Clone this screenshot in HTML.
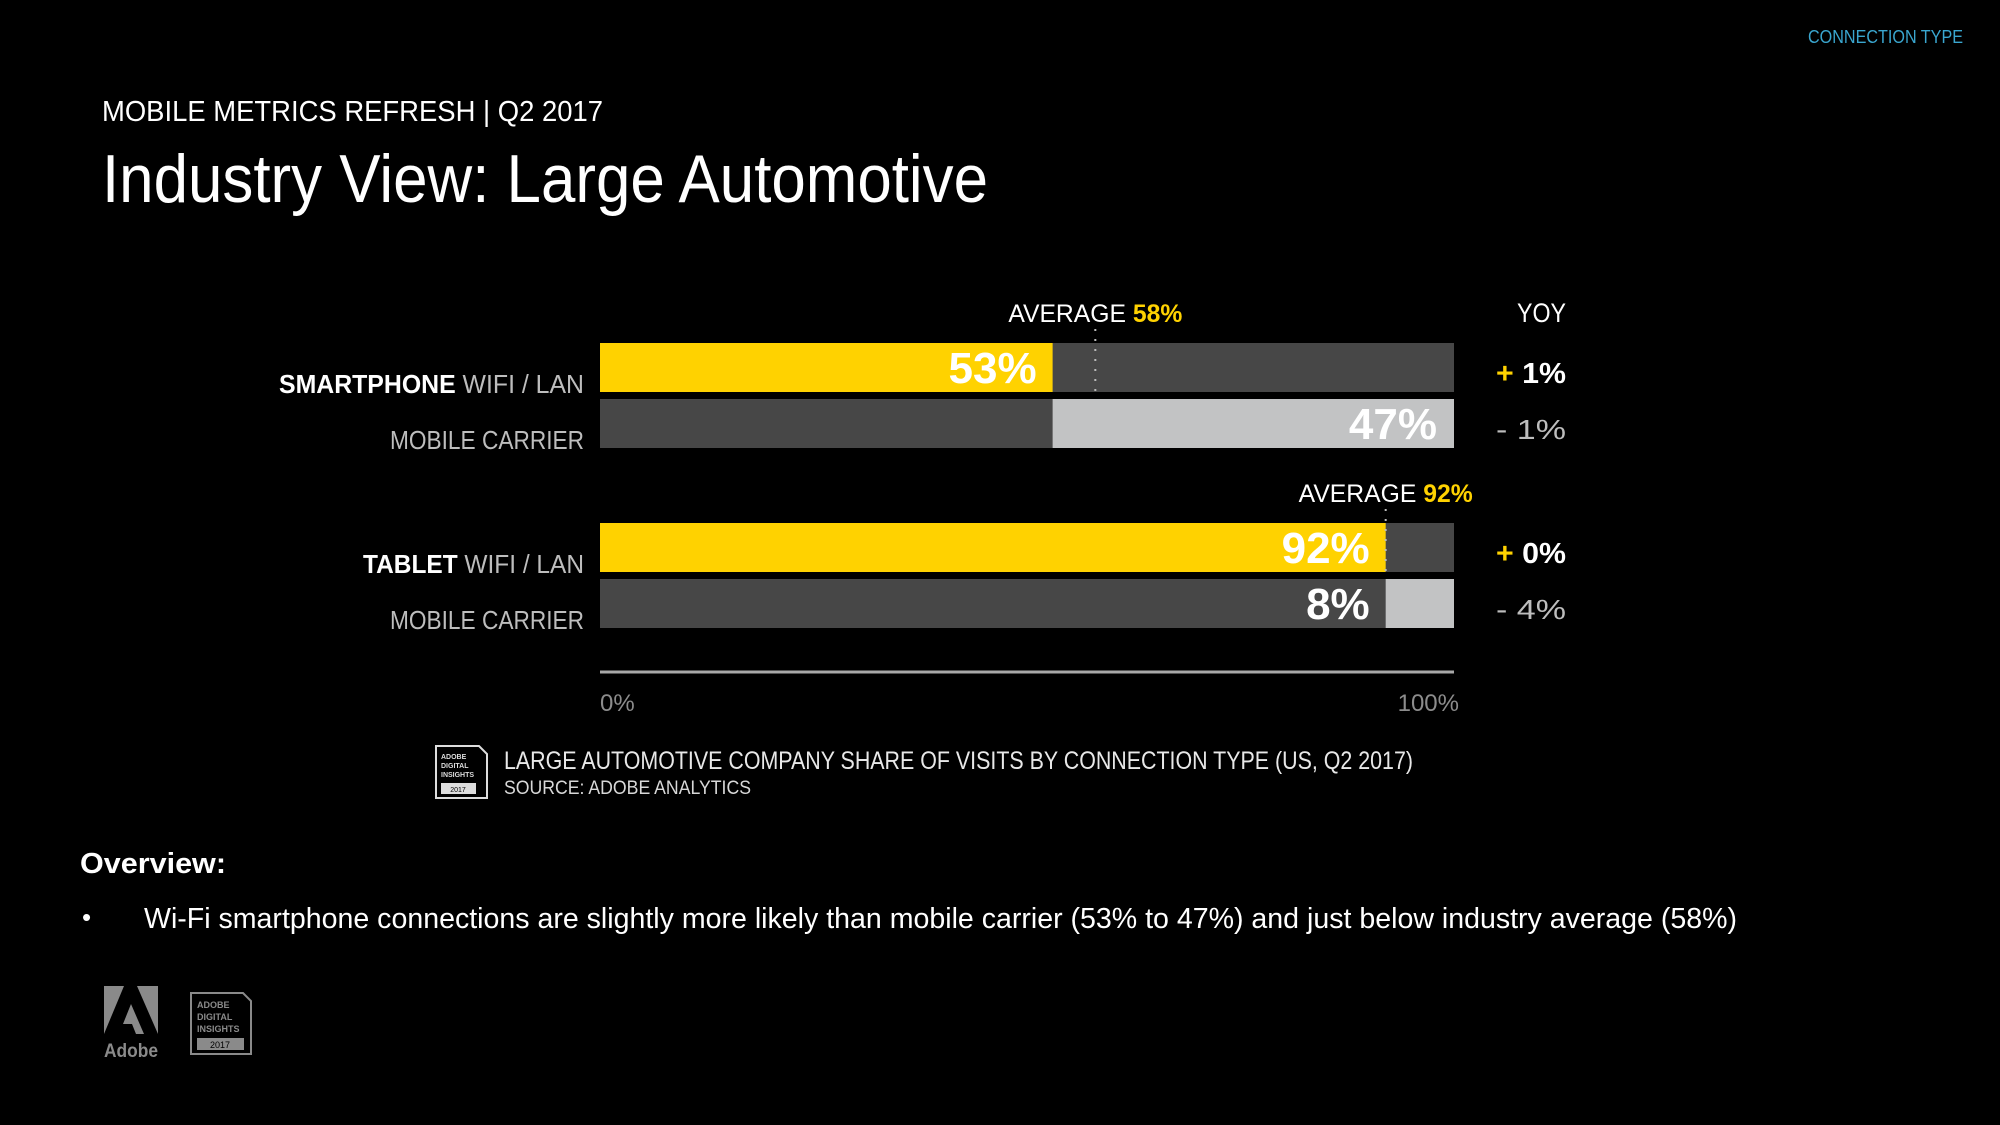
<!DOCTYPE html>
<html><head><meta charset="utf-8">
<style>
html,body{margin:0;padding:0;background:#000;}
svg{display:block;}
text{font-family:"Liberation Sans",sans-serif;}
</style></head>
<body>
<svg id="slide" width="2000" height="1125" viewBox="0 0 2000 1125" xmlns="http://www.w3.org/2000/svg">
<rect x="0" y="0" width="2000" height="1125" fill="#000"/>
<text x="1963" y="43" font-size="18" fill="#3aa6cf" text-anchor="end" textLength="155" lengthAdjust="spacingAndGlyphs">CONNECTION TYPE</text>
<text x="102" y="121" font-size="29" fill="#fff" textLength="501" lengthAdjust="spacingAndGlyphs">MOBILE METRICS REFRESH | Q2 2017</text>
<text x="102" y="202" font-size="68" fill="#fff" textLength="886" lengthAdjust="spacingAndGlyphs">Industry View: Large Automotive</text>

<g id="chart"></g>

<g>
<g>
<path d="M436 746 H479 L487 754 V798 H436 Z" fill="none" stroke="#ddd" stroke-width="2"/>
<text x="441" y="759" font-size="7" font-weight="bold" fill="#ddd">ADOBE</text>
<text x="441" y="768" font-size="7" font-weight="bold" fill="#ddd">DIGITAL</text>
<text x="441" y="777" font-size="7" font-weight="bold" fill="#ddd">INSIGHTS</text>
<rect x="441" y="783" width="35" height="11" fill="#ddd"/>
<text x="458" y="792" font-size="7" fill="#000" text-anchor="middle">2017</text>
</g>
<text x="504" y="769" font-size="25" fill="#e8e8e8" textLength="909" lengthAdjust="spacingAndGlyphs">LARGE AUTOMOTIVE COMPANY SHARE OF VISITS BY CONNECTION TYPE (US, Q2 2017)</text>
<text x="504" y="794" font-size="19" fill="#d8d8d8" textLength="247" lengthAdjust="spacingAndGlyphs">SOURCE: ADOBE ANALYTICS</text>
</g>

<text x="80" y="873" font-size="29" font-weight="bold" fill="#fff" textLength="146" lengthAdjust="spacingAndGlyphs">Overview:</text>
<text x="82" y="926" font-size="26" fill="#fff">•</text>
<text x="144" y="928" font-size="29" fill="#fff" textLength="1593" lengthAdjust="spacingAndGlyphs">Wi-Fi smartphone connections are slightly more likely than mobile carrier (53% to 47%) and just below industry average (58%)</text>

<g>
<path d="M104 986 H124 L104 1034 Z" fill="#8a8a8a"/>
<path d="M137 986 H158 V1034 Z" fill="#8a8a8a"/>
<path d="M131 1004 L144 1034 H136 L132 1024 H123 Z" fill="#8a8a8a"/>
<text x="104" y="1057" font-size="19" font-weight="bold" fill="#8a8a8a" textLength="54" lengthAdjust="spacingAndGlyphs">Adobe</text>
</g>
<g>
<path d="M191 993 H243 L251 1001 V1054 H191 Z" fill="none" stroke="#8a8a8a" stroke-width="2"/>
<text x="197" y="1008" font-size="9" font-weight="bold" fill="#8a8a8a">ADOBE</text>
<text x="197" y="1020" font-size="9" font-weight="bold" fill="#8a8a8a">DIGITAL</text>
<text x="197" y="1032" font-size="9" font-weight="bold" fill="#8a8a8a">INSIGHTS</text>
<rect x="197" y="1038" width="47" height="12" fill="#8a8a8a"/>
<text x="220" y="1048" font-size="9" fill="#000" text-anchor="middle">2017</text>
</g>
</svg>
<script>
const groups = ["SMARTPHONE", "TABLET"];
const wifiValues = [53, 92];
const carrierValues = [47, 8];
const averageValues = [58, 92];
const yoyWifiSigns = ["+", "+"];
const yoyWifiNums = ["1%", "0%"];
const yoyCarrierNums = ["1%", "4%"];
const axisTicks = ["0%", "100%"];

const NS = "http://www.w3.org/2000/svg";
const chart = document.getElementById("chart");
const X0 = 600, X1 = 1454;
function xs(v){ return X0 + (X1 - X0) * v / 100; }
const groupTop = [343, 523];
const barH = 49, rowGap = 56;
const wifiLabelW = [305, 221];

function mk(tag, attrs, parent){
  const e = document.createElementNS(NS, tag);
  for (const k in attrs) e.setAttribute(k, attrs[k]);
  (parent || chart).appendChild(e);
  return e;
}
function txt(x, y, s, size, fill, extra, parent){
  const t = mk("text", Object.assign({x:x, y:y, "font-size":size, fill:fill}, extra||{}), parent);
  t.textContent = s;
  return t;
}

const headerYOY = txt(1566, 322, "YOY", 27, "#fff", {"text-anchor":"end", textLength:49, lengthAdjust:"spacingAndGlyphs"});



groups.forEach(function(g, i){
  const top = groupTop[i];
  const w = wifiValues[i], c = carrierValues[i], avg = averageValues[i];
  const grp = mk("g", {});
  
  

  const bgW = mk("rect", {x:X0, y:top, width:X1-X0, height:barH, fill:"#474747"}, grp);
  
  
  const barW = mk("rect", {x:X0, y:top, width:xs(w)-X0, height:barH, fill:"#ffd200"}, grp);
  
  
  const lw = txt(xs(w)-16, top+40, w + "%", 44, "#fff", {"font-weight":"bold","text-anchor":"end"}, grp);
  
  

  const ct = top + rowGap;
  const bgC = mk("rect", {x:X0, y:ct, width:X1-X0, height:barH, fill:"#474747"}, grp);
  
  
  const barC = mk("rect", {x:xs(100-c), y:ct, width:X1-xs(100-c), height:barH, fill:"#c2c3c4"}, grp);
  
  
  const labelRight = c > 20 ? X1 - 17 : xs(100-c) - 16;
  const lc = txt(labelRight, ct+40, c + "%", 44, "#fff", {"font-weight":"bold","text-anchor":"end"}, grp);
  
  

  const l1 = mk("text", {x:584, y:top+50, "font-size":26, fill:"#bdbdbd", "text-anchor":"end", textLength:wifiLabelW[i], lengthAdjust:"spacingAndGlyphs"}, grp);
  
  
  const b = document.createElementNS(NS, "tspan");
  b.setAttribute("font-weight", "bold");
  b.setAttribute("fill", "#fff");
  b.textContent = g + " ";
  l1.appendChild(b);
  l1.appendChild(document.createTextNode("WIFI / LAN"));
  const l2 = txt(584, ct+50, "MOBILE CARRIER", 26, "#bdbdbd", {"text-anchor":"end", textLength:194, lengthAdjust:"spacingAndGlyphs"}, grp);
  
  

  const ax = xs(avg);
  const aline = mk("line", {x1:ax, y1:top-14, x2:ax, y2:top+barH, stroke:"#bbb", "stroke-width":2, "stroke-dasharray":"2 8"}, grp);
  
  
  const at = mk("text", {x:ax, y:top-21, "font-size":25, fill:"#fff", "text-anchor":"middle", textLength:174, lengthAdjust:"spacingAndGlyphs"}, grp);
  
  
  at.appendChild(document.createTextNode("AVERAGE "));
  const ap = document.createElementNS(NS, "tspan");
  ap.setAttribute("fill", "#ffd200");
  ap.setAttribute("font-weight", "bold");
  ap.textContent = avg + "%";
  at.appendChild(ap);

  const y1 = mk("text", {x:1566, y:top+40, "font-size":29, "font-weight":"bold", fill:"#fff", "text-anchor":"end", textLength:70, lengthAdjust:"spacingAndGlyphs"}, grp);
  
  
  const ps = document.createElementNS(NS, "tspan");
  ps.setAttribute("fill", "#ffd200");
  ps.textContent = yoyWifiSigns[i] + " ";
  y1.appendChild(ps);
  y1.appendChild(document.createTextNode(yoyWifiNums[i]));
  const y2 = txt(1566, ct+40, "- " + yoyCarrierNums[i], 28, "#bdbdbd", {"text-anchor":"end", textLength:70, lengthAdjust:"spacingAndGlyphs"}, grp);
  
  
});

const axis = mk("line", {x1:X0, y1:672, x2:X1, y2:672, stroke:"#a8a8a8", "stroke-width":3});


axisTicks.forEach(function(t, i){
  const v = parseFloat(t);
  const tx = txt(i === 0 ? xs(v) : xs(v) + 5, 711, t, 24, "#8c8c8c", {"text-anchor": i === 0 ? "start" : "end"});
  
  
});
</script>
</body></html>
